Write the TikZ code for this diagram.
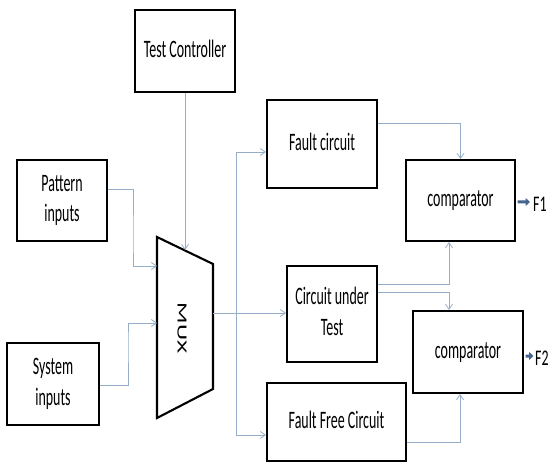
\documentclass[tikz,border=0pt]{standalone}
\usepackage{fontspec}
\setmainfont{Carlito}
\usetikzlibrary{arrows.meta,calc}
\definecolor{wire}{RGB}{150,174,200}
\definecolor{outblue}{RGB}{70,100,140}
\newcommand{\bt}[1]{\scalebox{1}[1.8]{\begin{tabular}{@{}c@{}}#1\end{tabular}}}
\tikzset{
  blk/.style={draw=black, line width=2.1bp, fill=white, inner sep=0pt, font=\fontsize{14}{17}\selectfont},
  wr/.style={draw=wire, line width=0.8bp},
  wra/.style={wr, -{Straight Barb[length=5bp,width=7bp]}},
  outarr/.style={draw=outblue, line width=3bp, -{Triangle[length=4.5bp,width=8bp]}},
}
\begin{document}
\begin{tikzpicture}[x=1bp,y=-1bp]
\useasboundingbox (0,0) rectangle (554,462);
% boxes
\node[blk, minimum width=100bp, minimum height=82bp] (tc) at (185,51) {\bt{Test Controller}};
\node[blk, minimum width=90bp, minimum height=81bp] (pat) at (62,200.5) {\bt{Pattern\\inputs}};
\node[blk, minimum width=92bp, minimum height=82bp] (sys) at (53,384) {\bt{System\\inputs}};
\node[blk, minimum width=110bp, minimum height=88bp] (fc) at (322,144) {\bt{Fault circuit}};
\node[blk, minimum width=90bp, minimum height=96bp] (cut) at (332,314) {\bt{Circuit under\\Test}};
\node[blk, minimum width=139bp, minimum height=78bp] (ffc) at (336.5,422) {\bt{Fault Free Circuit}};
\node[blk, minimum width=109bp, minimum height=81bp] (cmp1) at (460.5,200.5) {\bt{comparator}};
\node[blk, minimum width=110bp, minimum height=82bp] (cmp2) at (468,352) {\bt{comparator}};
% MUX
\coordinate (m1) at (157,237);
\coordinate (m2) at (213,264);
\coordinate (m3) at (213,389);
\coordinate (m4) at (157,418);
\draw[line width=2.1bp, fill=white, line join=miter] (m1) -- (m2) -- (m3) -- (m4) -- cycle;
\node[rotate=-90, font=\fontsize{14}{17}\selectfont] (mux) at (182,328) {\scalebox{1.8}[1]{MUX}};
% connectors
\coordinate (mt) at (185,250);
\draw[wra] (tc.south) -- (mt);
\coordinate (pin) at (157,266);
\draw[wra] ([yshift=11.5bp]pat.east) -| (133,240) |- (pin);
\coordinate (sin) at (157,323);
\draw[wra] ([yshift=-1bp]sys.east) -| (128,340) |- (sin);
\coordinate (mo) at (213,313);
\draw[wra] (mo) -- (cut.west |- mo);
\coordinate (bt) at (236,152);
\coordinate (bb) at (236,435);
\draw[wr] (bt) -- (bb);
\draw[wra] (bt) -- (fc.west |- bt);
\draw[wra] (bb) -- (ffc.west |- bb);
\draw[wra] ([yshift=21bp]fc.east) -| (cmp1.north);
\draw[wra] ([yshift=30bp]cut.east) -| ([xshift=-11.5bp]cmp1.south);
\draw[wra] ([yshift=22bp]cut.east) -| ([xshift=-19bp]cmp2.north);
\draw[wra] ([yshift=-20bp]ffc.east) -| ([xshift=-8bp]cmp2.south);
% outputs
\node[font=\fontsize{14}{17}\selectfont, anchor=west, inner sep=0pt] (f1) at (533,204) {\scalebox{1}[1.6]{F1}};
\node[font=\fontsize{14}{17}\selectfont, anchor=west, inner sep=0pt] (f2) at (535,358) {\scalebox{1}[1.6]{F2}};
\draw[outarr] ([xshift=1.5bp,yshift=-1.5bp]cmp1.east) -- ([xshift=-3bp,yshift=2bp]f1.west);
\draw[outarr] ([xshift=1.5bp,yshift=-4bp]cmp2.east) -- ([xshift=-1.5bp,yshift=2bp]f2.west);
\end{tikzpicture}
\end{document}
